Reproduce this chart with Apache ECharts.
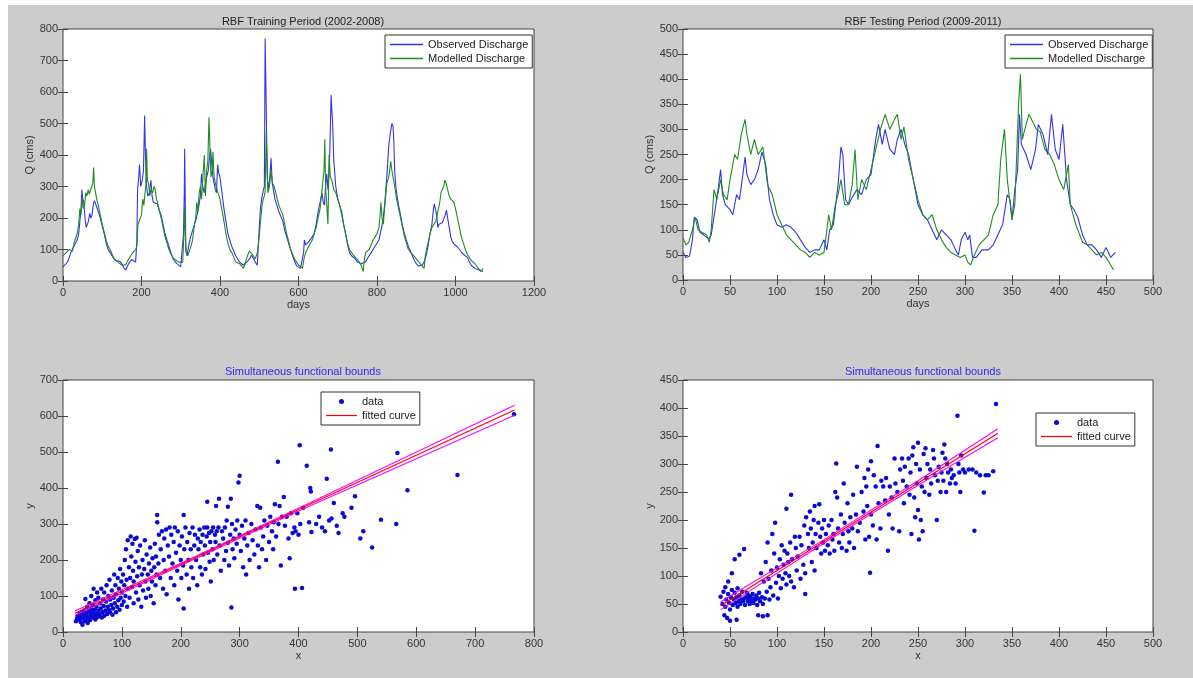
<!DOCTYPE html>
<html>
<head>
<meta charset="utf-8">
<script src="https://cdn.jsdelivr.net/npm/echarts@6/dist/echarts.min.js"></script>
<style>
  html, body { margin: 0; padding: 0; background: #fff; }
  #chart { position: absolute; left: 8px; top: 5px; width: 1185px; height: 673px; }
</style>
</head>
<body>
<div id="chart"></div>
<script>
// training period (2002-2008): [day, Q]
const trainObserved = [[0,45],[4,42],[8,55],[12,62],[16,75],[20,90],[24,85],[28,110],[32,105],[36,130],[40,150],[43,190],[46,230],[48,290],[50,265],[53,250],[56,200],[59,170],[62,175],[65,190],[68,215],[71,200],[74,210],[77,240],[80,255],[83,245],[86,235],[90,220],[95,200],[100,175],[105,150],[110,120],[115,100],[120,90],[125,80],[130,72],[135,65],[140,60],[145,62],[150,55],[155,42],[160,35],[165,50],[170,60],[175,68],[180,65],[185,60],[188,120],[190,290],[193,330],[195,370],[198,300],[202,320],[205,350],[208,525],[210,400],[213,300],[216,270],[220,280],[224,320],[227,270],[230,250],[235,245],[240,245],[245,225],[250,210],[255,180],[260,150],[265,130],[270,110],[275,90],[280,72],[285,62],[290,55],[295,50],[300,45],[305,48],[307,150],[309,280],[310,420],[311,300],[313,100],[316,80],[320,110],[325,140],[330,160],[335,180],[340,200],[345,230],[350,270],[353,340],[356,300],[360,280],[363,310],[366,330],[370,350],[373,390],[376,420],[379,370],[382,330],[385,310],[388,290],[391,280],[394,370],[397,340],[400,330],[405,280],[410,230],[415,190],[420,150],[425,130],[430,110],[435,95],[440,80],[445,70],[450,60],[455,55],[460,50],[465,55],[470,62],[475,70],[480,82],[485,72],[490,60],[495,50],[500,170],[503,230],[506,260],[510,285],[513,300],[515,770],[517,620],[519,450],[521,320],[524,295],[527,330],[530,390],[533,310],[536,290],[540,260],[545,240],[550,220],[555,205],[560,190],[565,160],[570,140],[575,118],[580,100],[585,80],[590,62],[595,48],[600,42],[605,40],[610,35],[613,90],[615,130],[618,115],[622,110],[626,125],[630,130],[635,140],[640,150],[645,180],[650,220],[655,250],[660,280],[663,250],[666,240],[669,300],[672,340],[675,290],[678,350],[680,420],[683,590],[685,540],[687,500],[690,380],[695,300],[700,260],[705,240],[710,220],[715,180],[720,150],[725,115],[730,90],[735,80],[740,75],[745,70],[750,60],[755,58],[760,55],[765,50],[770,60],[775,70],[780,80],[785,90],[790,100],[795,105],[800,120],[805,130],[810,160],[815,190],[820,250],[825,330],[830,430],[834,470],[838,500],[841,490],[843,440],[845,350],[848,300],[850,280],[855,240],[860,210],[865,175],[870,150],[875,130],[880,110],[885,95],[890,80],[895,65],[900,55],[905,48],[910,45],[915,50],[920,60],[925,80],[930,110],[935,150],[940,180],[943,220],[946,245],[949,240],[952,210],[955,170],[958,180],[962,175],[966,185],[970,190],[974,210],[977,225],[980,200],[984,170],[988,140],[992,125],[996,118],[1000,115],[1005,108],[1010,100],[1015,92],[1020,85],[1025,80],[1030,75],[1035,62],[1040,50],[1045,45],[1050,40],[1055,38],[1060,35],[1065,32],[1070,30]];
const trainModelled = [[0,80],[4,75],[8,90],[12,85],[16,100],[20,105],[24,95],[28,120],[32,125],[36,150],[40,180],[43,230],[46,210],[49,260],[52,230],[55,240],[58,280],[61,270],[64,290],[67,275],[70,280],[73,300],[76,310],[78,360],[80,300],[83,280],[86,260],[90,240],[95,210],[100,180],[105,155],[110,130],[115,110],[120,100],[125,85],[130,70],[135,65],[140,60],[145,55],[150,50],[155,48],[160,52],[165,65],[170,75],[175,85],[180,90],[185,100],[188,110],[191,180],[194,175],[197,200],[200,210],[203,260],[206,240],[209,280],[211,300],[213,420],[215,320],[218,310],[221,270],[224,290],[228,280],[232,300],[235,290],[238,260],[241,250],[245,225],[250,200],[255,170],[260,140],[265,120],[270,100],[275,85],[280,75],[285,68],[290,65],[295,60],[300,55],[305,60],[308,150],[310,240],[312,130],[314,90],[318,80],[322,85],[326,110],[330,130],[335,180],[338,200],[341,250],[344,220],[347,280],[350,300],[353,260],[356,320],[360,400],[363,270],[366,350],[369,380],[372,520],[375,400],[377,330],[380,350],[382,410],[385,330],[390,300],[395,280],[400,260],[405,225],[410,190],[415,150],[420,120],[425,100],[430,90],[435,75],[440,60],[445,58],[450,55],[455,48],[460,40],[465,60],[470,80],[475,95],[480,90],[485,80],[490,70],[495,90],[500,140],[504,200],[507,240],[510,260],[513,270],[515,285],[517,420],[518,480],[520,350],[522,280],[526,300],[530,350],[534,310],[538,300],[542,280],[546,260],[550,240],[555,225],[560,210],[565,180],[570,150],[575,125],[580,100],[585,85],[590,70],[595,60],[600,50],[605,45],[610,40],[614,70],[618,90],[622,100],[626,110],[630,110],[635,130],[640,150],[645,170],[650,200],[655,230],[660,290],[663,330],[665,350],[667,450],[669,300],[672,240],[675,180],[678,400],[681,330],[685,320],[690,290],[695,280],[700,260],[705,240],[710,210],[715,180],[720,150],[725,120],[730,100],[735,90],[740,82],[745,75],[750,68],[755,60],[760,50],[765,30],[768,70],[771,90],[775,95],[780,100],[785,115],[790,130],[795,140],[800,150],[805,170],[808,210],[810,250],[813,200],[816,180],[820,240],[825,310],[830,330],[835,380],[838,350],[841,330],[845,300],[850,260],[855,230],[860,200],[865,170],[870,140],[875,120],[880,100],[885,92],[890,85],[895,78],[900,70],[905,62],[910,55],[915,50],[920,40],[923,80],[926,100],[930,120],[935,150],[940,170],[945,180],[950,190],[955,220],[960,250],[963,280],[966,290],[970,300],[973,320],[976,310],[980,290],[984,270],[988,260],[992,255],[996,250],[1000,230],[1005,200],[1010,170],[1015,140],[1020,120],[1025,100],[1030,85],[1035,75],[1040,65],[1045,60],[1050,55],[1055,45],[1060,38],[1065,30],[1070,40]];

// testing period (2009-2011): [day, Q]
const testObserved = [[0,55],[3,45],[7,48],[10,80],[12,125],[15,120],[18,95],[22,90],[25,85],[28,82],[30,90],[35,150],[38,190],[40,220],[42,170],[45,150],[50,140],[53,130],[57,170],[60,160],[63,200],[66,245],[68,210],[72,190],[76,200],[80,220],[84,255],[88,230],[92,160],[96,130],[100,110],[105,105],[110,110],[115,105],[120,95],[125,80],[130,65],[135,55],[140,60],[145,60],[150,80],[153,60],[156,100],[160,110],[165,190],[168,265],[170,250],[173,160],[176,150],[180,165],[185,180],[190,170],[195,200],[200,210],[205,280],[208,310],[212,270],[215,300],[220,260],[225,250],[228,280],[232,300],[236,270],[240,250],[245,200],[250,150],[255,130],[260,120],[265,100],[270,80],[275,100],[280,90],[285,80],[290,60],[293,50],[296,80],[300,95],[303,80],[305,90],[308,45],[312,45],[318,60],[325,60],[330,70],[335,90],[340,110],[345,170],[348,160],[350,120],[353,180],[356,220],[358,330],[360,270],[365,250],[370,220],[375,260],[378,310],[383,290],[388,250],[392,330],[396,260],[400,240],[404,310],[408,200],[412,150],[416,140],[420,125],[425,90],[430,70],[435,70],[440,60],[445,45],[450,65],[455,45],[460,55]];
const testModelled = [[0,85],[3,70],[6,75],[10,100],[13,125],[16,100],[20,95],[25,90],[28,75],[30,100],[33,180],[36,160],[40,200],[43,170],[47,160],[50,200],[55,250],[58,240],[62,290],[66,320],[68,290],[72,250],[76,280],[80,250],[85,265],[90,190],[95,170],[100,130],[105,110],[110,90],[115,80],[120,70],[125,60],[130,55],[135,45],[140,55],[145,50],[150,55],[155,130],[158,100],[162,150],[165,170],[168,200],[172,150],[176,150],[180,190],[183,260],[186,160],[190,200],[195,180],[200,220],[205,260],[210,300],[215,330],[220,300],[225,320],[228,330],[232,280],[235,305],[240,240],[245,200],[250,160],[255,130],[260,120],[265,130],[270,100],[275,80],[280,65],[285,55],[290,50],[295,45],[300,50],[303,35],[306,30],[310,50],[315,70],[320,80],[325,90],[330,130],[335,150],[338,240],[342,300],[345,200],[350,120],[353,150],[357,350],[359,410],[361,280],[365,310],[368,330],[372,315],[376,300],[380,295],[385,260],[390,250],[395,230],[400,200],[405,180],[410,230],[412,150],[418,110],[425,75],[430,70],[435,60],[440,50],[445,55],[450,45],[455,30],[458,20]];

// scatter, training: [x, y]
const trainScatter = [[22,30],[24,38],[25,45],[27,35],[28,50],[30,28],[30,42],[32,55],[33,20],[34,38],[35,48],[36,60],[37,30],[38,45],[38,92],[40,35],[40,52],[41,70],[42,25],[43,42],[44,58],[45,80],[46,33],[47,48],[48,65],[48,100],[50,40],[50,55],[51,75],[52,120],[53,45],[54,62],[55,35],[55,88],[56,50],[57,70],[58,110],[59,42],[60,58],[60,95],[62,48],[63,80],[64,65],[65,120],[66,40],[67,55],[68,90],[69,72],[70,45],[70,110],[72,60],[73,85],[74,130],[75,50],[76,70],[77,100],[78,62],[79,145],[80,55],[80,90],[82,75],[83,115],[84,48],[85,65],[86,95],[87,160],[88,80],[89,130],[90,55],[90,105],[92,70],[93,150],[94,88],[95,120],[96,62],[97,175],[98,95],[99,140],[100,75],[100,110],[102,160],[103,85],[104,130],[105,200],[106,100],[107,230],[108,145],[109,70],[110,255],[110,120],[112,180],[113,95],[114,150],[115,265],[116,210],[117,125],[118,245],[119,170],[120,80],[120,140],[122,258],[123,195],[124,110],[125,262],[126,155],[127,225],[128,90],[129,180],[130,130],[131,240],[133,70],[134,160],[135,200],[136,115],[138,175],[139,255],[140,140],[141,95],[142,215],[144,160],[145,120],[146,190],[148,235],[149,100],[150,170],[151,140],[152,205],[154,80],[155,180],[156,245],[157,130],[158,210],[159,160],[160,325],[160,305],[162,190],[163,270],[165,150],[166,230],[168,280],[170,120],[171,200],[172,260],[174,170],[175,285],[176,105],[178,240],[180,210],[181,290],[183,150],[184,270],[186,190],[188,250],[189,130],[190,290],[192,220],[194,170],[195,280],[196,90],[198,240],[200,200],[201,150],[202,265],[204,185],[205,325],[205,65],[206,230],[208,290],[210,160],[211,250],[213,200],[214,120],[215,275],[217,230],[218,180],[220,290],[221,150],[223,240],[224,270],[226,200],[228,130],[229,260],[230,230],[232,285],[233,180],[234,250],[236,160],[237,270],[238,215],[240,290],[241,240],[242,175],[244,265],[245,362],[245,290],[246,220],[248,275],[249,195],[250,250],[251,140],[252,280],[254,230],[255,290],[256,200],[258,270],[259,250],[260,350],[261,280],[262,215],[264,290],[265,370],[266,240],[268,170],[270,280],[272,260],[274,200],[275,290],[277,225],[278,310],[280,248],[280,348],[282,185],[284,270],[285,370],[286,68],[287,300],[288,230],[290,260],[291,205],[293,285],[295,245],[296,310],[298,415],[300,434],[300,270],[302,225],[304,295],[306,180],[308,260],[310,310],[311,160],[313,240],[315,275],[317,200],[320,300],[322,255],[325,215],[327,285],[330,350],[331,240],[333,180],[335,345],[336,290],[338,230],[340,265],[342,310],[345,200],[347,295],[350,250],[352,320],[355,280],[357,230],[358,305],[360,355],[362,265],[365,473],[366,300],[368,350],[370,185],[372,320],[375,375],[377,295],[380,320],[383,260],[385,205],[387,330],[390,275],[393,290],[394,120],[395,280],[398,330],[400,270],[402,519],[403,300],[406,122],[408,345],[414,462],[418,305],[420,400],[421,390],[422,278],[430,300],[435,320],[440,290],[445,280],[448,426],[452,310],[455,507],[456,315],[460,358],[465,295],[468,275],[475,330],[478,320],[490,345],[496,377],[505,260],[510,280],[525,235],[540,312],[566,300],[568,497],[585,394],[670,436],[766,605]];
const trainFitX = [20, 200, 400, 767];
const trainFitY = [52, 188, 340, 617];
const trainUpperY = [58, 191, 344, 630];
const trainLowerY = [46, 185, 336, 602];

// scatter, testing: [x, y]
const testScatter = [[40,63],[42,50],[43,72],[44,30],[45,45],[45,80],[46,58],[47,25],[48,68],[48,90],[49,52],[50,40],[50,20],[51,62],[52,75],[52,105],[53,48],[54,58],[55,70],[55,130],[56,52],[57,22],[57,62],[58,45],[58,78],[59,55],[60,65],[60,138],[61,50],[62,58],[63,72],[64,55],[65,60],[65,148],[66,48],[67,62],[68,70],[69,55],[70,58],[70,65],[71,50],[72,62],[73,56],[74,68],[75,52],[76,60],[77,58],[78,65],[79,48],[80,30],[80,60],[81,70],[82,55],[83,105],[84,62],[85,28],[85,50],[86,90],[87,60],[88,125],[89,72],[90,30],[90,160],[91,95],[92,58],[93,80],[94,110],[95,175],[96,65],[97,140],[98,195],[99,88],[100,115],[101,60],[102,100],[103,130],[104,78],[105,155],[106,95],[107,120],[108,145],[109,105],[110,220],[110,85],[111,140],[112,125],[113,100],[114,160],[115,245],[115,90],[116,130],[118,80],[119,170],[120,150],[121,110],[122,135],[124,170],[125,95],[126,155],[128,120],[129,190],[130,68],[130,105],[131,205],[133,175],[134,150],[135,215],[136,185],[137,125],[138,160],[139,200],[140,225],[140,110],[141,175],[142,150],[144,195],[145,228],[146,170],[147,140],[148,185],[149,160],[150,200],[151,145],[152,175],[154,155],[155,190],[156,140],[158,200],[159,165],[160,175],[161,145],[162,250],[163,301],[164,240],[165,185],[166,160],[168,210],[169,150],[170,175],[171,265],[172,195],[174,145],[175,230],[176,180],[177,160],[178,205],[180,185],[181,245],[182,150],[184,210],[185,295],[186,180],[188,195],[190,250],[192,215],[193,275],[194,165],[195,260],[196,225],[197,290],[198,170],[199,106],[200,305],[200,210],[202,190],[203,280],[205,260],[206,165],[207,332],[208,230],[210,185],[211,270],[213,260],[215,235],[216,275],[218,145],[219,210],[220,260],[222,240],[223,185],[225,310],[226,265],[228,250],[230,180],[231,290],[233,310],[234,270],[235,230],[236,295],[238,260],[240,310],[241,245],[242,285],[243,175],[244,315],[245,330],[246,240],[247,205],[248,300],[249,265],[250,338],[250,218],[251,165],[252,290],[253,200],[254,260],[255,180],[256,318],[257,250],[258,328],[259,275],[260,300],[262,245],[263,290],[264,265],[266,325],[267,310],[268,280],[270,200],[271,270],[272,295],[274,250],[275,285],[276,320],[277,270],[278,335],[279,310],[280,250],[281,300],[282,285],[284,265],[285,290],[286,275],[288,280],[290,265],[292,386],[293,300],[294,285],[295,250],[296,315],[298,290],[300,285],[304,290],[308,290],[310,181],[312,285],[316,280],[320,249],[322,280],[325,280],[330,287],[333,407]];
const testFitX = [40, 150, 250, 335];
const testFitY = [47, 162, 266, 355];
const testUpperY = [54, 165, 270, 363];
const testLowerY = [40, 159, 262, 347];

const FONT = '"Liberation Sans", Arial, sans-serif';
const TXT = '#333';
const LINE_ICON = 'path://M0,0L30,0L30,1.2L0,1.2Z';

function pairs(xs, ys) {
  return xs.map((x, i) => [x, ys[i]]);
}

function plainNum(v) {
  return String(v);
}

function xAxes(grid, max, step, name) {
  return [
    {
      type: 'value', gridIndex: grid, position: 'bottom', min: 0, max: max, interval: step,
      axisLine: { show: false },
      axisTick: { show: true, inside: true, length: 5, lineStyle: { color: '#444' } },
      axisLabel: { color: TXT, fontSize: 11, fontFamily: FONT, margin: 6, formatter: plainNum },
      splitLine: { show: false },
      name: name, nameLocation: 'middle', nameGap: 18,
      nameTextStyle: { color: TXT, fontSize: 11, fontFamily: FONT }
    },
    {
      type: 'value', gridIndex: grid, position: 'top', min: 0, max: max, interval: step,
      axisLine: { show: false },
      axisTick: { show: true, inside: true, length: 5, lineStyle: { color: '#444' } },
      axisLabel: { show: false },
      splitLine: { show: false }
    }
  ];
}

function yAxes(grid, max, step, name) {
  return [
    {
      type: 'value', gridIndex: grid, position: 'left', min: 0, max: max, interval: step,
      axisLine: { show: false },
      axisTick: { show: true, inside: true, length: 5, lineStyle: { color: '#444' } },
      axisLabel: { color: TXT, fontSize: 11, fontFamily: FONT, margin: 5, formatter: plainNum },
      splitLine: { show: false },
      name: name, nameLocation: 'middle', nameGap: 28,
      nameTextStyle: { color: TXT, fontSize: 11, fontFamily: FONT }
    },
    {
      type: 'value', gridIndex: grid, position: 'right', min: 0, max: max, interval: step,
      axisLine: { show: false },
      axisTick: { show: true, inside: true, length: 5, lineStyle: { color: '#444' } },
      axisLabel: { show: false },
      splitLine: { show: false }
    }
  ];
}

function gridBox(left, top, width, height) {
  return { left, top, width, height, show: true, backgroundColor: '#fff', borderColor: '#444', borderWidth: 1, containLabel: false };
}

function legendBox(left, top, items, itemWidth) {
  return {
    left, top, orient: 'vertical', data: items,
    backgroundColor: '#fff', borderColor: '#333', borderWidth: 1,
    padding: [4, 4, 4, 5], itemGap: 3, itemWidth: itemWidth, itemHeight: 5,
    selectedMode: false,
    textStyle: { color: '#222', fontSize: 11, fontFamily: FONT }
  };
}

function lineSeries(name, data, color, xi, yi) {
  return {
    name, type: 'line', data, xAxisIndex: xi, yAxisIndex: yi,
    symbol: 'none', showSymbol: false, lineStyle: { color, width: 1.1 }, itemStyle: { color },
    silent: true
  };
}

function scatterSeries(data, xi, yi) {
  return {
    name: 'data', type: 'scatter', data, xAxisIndex: xi, yAxisIndex: yi,
    symbol: 'circle', symbolSize: 4.5, itemStyle: { color: '#0a0ad2', opacity: 1 }, silent: true
  };
}

const BLUE = '#3434e8';
const GREEN = '#1e8c1e';

let chart = echarts.init(document.getElementById('chart'));
let option = {
  animation: false,
  backgroundColor: '#cccccc',
  title: [
    { text: 'RBF Training Period (2002-2008)', left: 290, top: 6, textAlign: 'center',
      textStyle: { color: '#222', fontSize: 11, fontWeight: 'normal', fontFamily: FONT } },
    { text: 'RBF Testing Period (2009-2011)', left: 910, top: 6, textAlign: 'center',
      textStyle: { color: '#222', fontSize: 11, fontWeight: 'normal', fontFamily: FONT } },
    { text: 'Simultaneous functional bounds', left: 290, top: 356, textAlign: 'center',
      textStyle: { color: '#2b2bf0', fontSize: 11, fontWeight: 'normal', fontFamily: FONT } },
    { text: 'Simultaneous functional bounds', left: 910, top: 356, textAlign: 'center',
      textStyle: { color: '#2b2bf0', fontSize: 11, fontWeight: 'normal', fontFamily: FONT } }
  ],
  grid: [
    gridBox(55, 24, 471, 252),
    gridBox(675, 24, 470, 251),
    gridBox(55, 375, 471, 252),
    gridBox(675, 375, 470, 252)
  ],
  xAxis: [].concat(
    xAxes(0, 1200, 200, 'days'),
    xAxes(1, 500, 50, 'days'),
    xAxes(2, 800, 100, 'x'),
    xAxes(3, 500, 50, 'x')
  ),
  yAxis: [].concat(
    yAxes(0, 800, 100, 'Q (cms)'),
    yAxes(1, 500, 50, 'Q (cms)'),
    yAxes(2, 700, 100, 'y'),
    yAxes(3, 450, 50, 'y')
  ),
  legend: [
    legendBox(377, 30, [{ name: 'Observed Discharge', icon: LINE_ICON }, { name: 'Modelled Discharge', icon: LINE_ICON }], 33),
    legendBox(997, 30, [{ name: 'Observed Discharge', icon: LINE_ICON }, { name: 'Modelled Discharge', icon: LINE_ICON }], 33),
    legendBox(313, 387, [{ name: 'data', icon: 'circle' }, { name: 'fitted curve', icon: LINE_ICON }], 31),
    legendBox(1028, 408, [{ name: 'data', icon: 'circle' }, { name: 'fitted curve', icon: LINE_ICON }], 31)
  ],
  series: [
    lineSeries('Observed Discharge', trainObserved, BLUE, 0, 0),
    lineSeries('Modelled Discharge', trainModelled, GREEN, 0, 0),
    lineSeries('Observed Discharge', testObserved, BLUE, 2, 2),
    lineSeries('Modelled Discharge', testModelled, GREEN, 2, 2),
    scatterSeries(trainScatter, 4, 4),
    lineSeries('upper bound', pairs(trainFitX, trainUpperY), '#ff00ff', 4, 4),
    lineSeries('lower bound', pairs(trainFitX, trainLowerY), '#ff00ff', 4, 4),
    lineSeries('fitted curve', pairs(trainFitX, trainFitY), '#ff0000', 4, 4),
    scatterSeries(testScatter, 6, 6),
    lineSeries('upper bound', pairs(testFitX, testUpperY), '#ff00ff', 6, 6),
    lineSeries('lower bound', pairs(testFitX, testLowerY), '#ff00ff', 6, 6),
    lineSeries('fitted curve', pairs(testFitX, testFitY), '#ff0000', 6, 6)
  ]
};
chart.setOption(option);
</script>
</body>
</html>
